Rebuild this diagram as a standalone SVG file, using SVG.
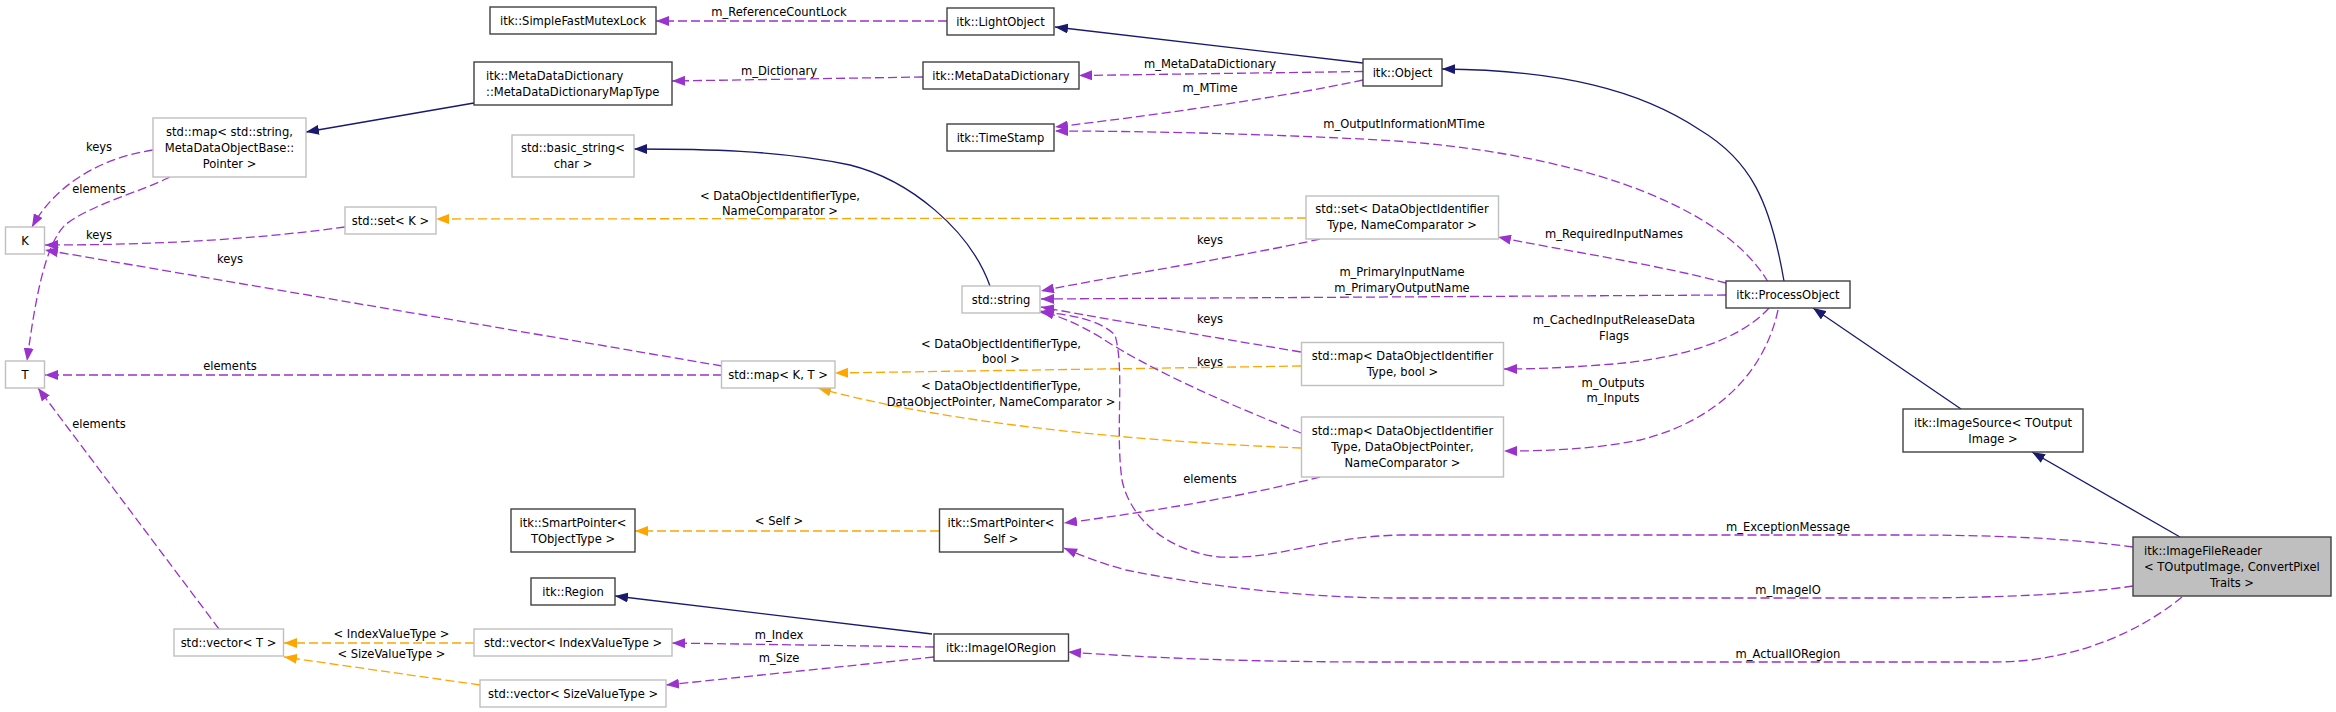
<svg xmlns="http://www.w3.org/2000/svg" width="2336" height="712" viewBox="0 0 2336 712">
<style>
text{font-family:"DejaVu Sans Condensed","DejaVu Sans",sans-serif;font-size:12.8px;fill:#000}
.c{text-anchor:middle}
.nd rect{fill:#fff;stroke:#404040;stroke-width:1.4}
.ng rect{fill:#fff;stroke:#bfbfbf;stroke-width:1.4}
.nh rect{fill:#bfbfbf;stroke:#404040;stroke-width:1.4}
.e path{fill:none;stroke-width:1.3}
.p{stroke:#9a32cd;stroke-dasharray:9,4}
.o{stroke:#ffa500;stroke-dasharray:9,4}
.b{stroke:#191970}
.e path.p{marker-end:url(#ap)}
.e path.o{marker-end:url(#ao)}
.e path.b{marker-end:url(#ab)}
</style>
<defs>
<marker id="ap" markerUnits="userSpaceOnUse" markerWidth="14" markerHeight="10" refX="13" refY="5" orient="auto"><path d="M0,0 L13,5 L0,10 z" fill="#9a32cd"/></marker>
<marker id="ao" markerUnits="userSpaceOnUse" markerWidth="14" markerHeight="10" refX="13" refY="5" orient="auto"><path d="M0,0 L13,5 L0,10 z" fill="#ffa500"/></marker>
<marker id="ab" markerUnits="userSpaceOnUse" markerWidth="14" markerHeight="10" refX="13" refY="5" orient="auto"><path d="M0,0 L13,5 L0,10 z" fill="#191970"/></marker>
</defs>
<rect width="2336" height="712" fill="#fff"/>
<g id="edges" class="e">
<path class="p" d="M947,21 L656,21"/>
<text class="c" x="779" y="16">m_ReferenceCountLock</text>
<path class="b" d="M1363,63 L1055,27"/>
<path class="p" d="M923,77 L672,81"/>
<text class="c" x="779" y="75">m_Dictionary</text>
<path class="p" d="M1363,71.5 L1079,75.5"/>
<text class="c" x="1210" y="68">m_MetaDataDictionary</text>
<path class="p" d="M1363,80 C1280,98 1140,117 1055,127"/>
<text class="c" x="1210" y="92">m_MTime</text>
<path class="p" d="M1768,282 C1720,200 1560,150 1380,140 C1250,133 1120,131 1055,131"/>
<text class="c" x="1404" y="128">m_OutputInformationMTime</text>
<path class="b" d="M1784,281 C1770,200 1750,160 1700,130 C1640,90 1560,70 1442,69"/>
<path class="b" d="M990,286 C970,230 910,180 850,165 C780,150 700,149 634,149"/>
<path class="b" d="M474,103 L306,132"/>
<path class="p" d="M153,150 C100,158 55,185 32,227"/>
<text class="c" x="99" y="151">keys</text>
<path class="p" d="M170,177 C140,192 90,205 65,225 C45,245 35,300 27,361"/>
<text class="c" x="99" y="193">elements</text>
<path class="p" d="M345,227 C250,240 150,245 45,245"/>
<text class="c" x="99" y="239">keys</text>
<path class="p" d="M722,366 L45,250"/>
<text class="c" x="230" y="263">keys</text>
<path class="p" d="M722,375 L45,375"/>
<text class="c" x="230" y="370">elements</text>
<path class="p" d="M219,629 L38,388"/>
<text class="c" x="99" y="428">elements</text>
<path class="o" d="M1306,218 L436,219"/>
<text class="c" x="780" y="200">&lt; DataObjectIdentifierType,</text>
<text class="c" x="780" y="215">NameComparator &gt;</text>
<path class="p" d="M1320,239 C1250,255 1120,275 1041,291"/>
<text class="c" x="1210" y="244">keys</text>
<path class="p" d="M1726,295 L1041,299"/>
<text class="c" x="1402" y="276">m_PrimaryInputName</text>
<text class="c" x="1402" y="292">m_PrimaryOutputName</text>
<path class="p" d="M1726,283 C1660,265 1560,250 1498,237"/>
<text class="c" x="1614" y="238">m_RequiredInputNames</text>
<path class="p" d="M1301,352 C1200,335 1100,318 1041,307"/>
<text class="c" x="1210" y="323">keys</text>
<path class="o" d="M1301,366 L835,373"/>
<text class="c" x="1001" y="348">&lt; DataObjectIdentifierType,</text>
<text class="c" x="1001" y="363">bool &gt;</text>
<path class="p" d="M1301,433 C1230,405 1150,370 1100,337 C1075,322 1055,315 1041,311"/>
<text class="c" x="1210" y="366">keys</text>
<path class="o" d="M1301,448 C1150,442 950,425 818,388"/>
<text class="c" x="1001" y="390">&lt; DataObjectIdentifierType,</text>
<text class="c" x="1001" y="406">DataObjectPointer, NameComparator &gt;</text>
<path class="p" d="M1769,308 C1740,340 1680,360 1600,365 C1560,368 1530,369 1504,369"/>
<text class="c" x="1614" y="324">m_CachedInputReleaseData</text>
<text class="c" x="1614" y="340">Flags</text>
<path class="p" d="M1778,310 C1765,370 1720,420 1640,440 C1590,450 1540,451 1504,451"/>
<text class="c" x="1613" y="387">m_Outputs</text>
<text class="c" x="1613" y="402">m_Inputs</text>
<path class="p" d="M2133,547 C2060,537 1980,535 1900,535 L1400,535 C1320,537 1280,560 1220,557 C1170,552 1130,520 1122,480 C1115,430 1125,370 1115,335 C1100,320 1070,314 1039,312"/>
<text class="c" x="1788" y="531">m_ExceptionMessage</text>
<path class="p" d="M2133,586 C2080,594 2000,598 1900,598 L1400,598 C1300,598 1200,585 1126,570 C1100,563 1080,555 1064,548"/>
<text class="c" x="1788" y="594">m_ImageIO</text>
<path class="p" d="M2182,597 C2160,615 2110,650 2030,660 C2010,662 2000,662 1990,662 L1380,662 C1250,662 1150,658 1068,652"/>
<text class="c" x="1788" y="658">m_ActualIORegion</text>
<path class="b" d="M2180,537 L2032,452"/>
<path class="b" d="M1961,409 L1813,308"/>
<path class="o" d="M939,531 L635,531"/>
<text class="c" x="779" y="525">&lt; Self &gt;</text>
<path class="p" d="M1320,477 C1250,495 1150,512 1064,523"/>
<text class="c" x="1210" y="483">elements</text>
<path class="b" d="M932,634 L615,596"/>
<path class="p" d="M934,647 L672,643"/>
<text class="c" x="779" y="639">m_Index</text>
<path class="p" d="M934,657 L666,685"/>
<text class="c" x="779" y="662">m_Size</text>
<path class="o" d="M474,643 L284,643"/>
<text class="c" x="391.5" y="638">&lt; IndexValueType &gt;</text>
<path class="o" d="M480,685 L284,657"/>
<text class="c" x="391.5" y="658">&lt; SizeValueType &gt;</text>
</g>
<g id="n_mutex" class="nd"><rect x="490" y="7" width="166" height="27"/><text class="c" x="573" y="25">itk::SimpleFastMutexLock</text></g>
<g id="n_light" class="nd"><rect x="947" y="8" width="107" height="27"/><text class="c" x="1000.5" y="26">itk::LightObject</text></g>
<g id="n_maptype" class="nd"><rect x="474" y="62" width="198" height="43"/><text x="486" y="80">itk::MetaDataDictionary</text><text x="486" y="96">::MetaDataDictionaryMapType</text></g>
<g id="n_mdd" class="nd"><rect x="923" y="62" width="156" height="27"/><text class="c" x="1001" y="80">itk::MetaDataDictionary</text></g>
<g id="n_object" class="nd"><rect x="1363" y="59" width="79" height="27"/><text class="c" x="1402.5" y="77">itk::Object</text></g>
<g id="n_stdmap_str" class="ng"><rect x="153" y="118" width="153" height="59"/><text class="c" x="229.5" y="136">std::map&lt; std::string,</text><text class="c" x="229.5" y="152">MetaDataObjectBase::</text><text class="c" x="229.5" y="168">Pointer &gt;</text></g>
<g id="n_basic" class="ng"><rect x="512" y="135" width="122" height="42"/><text class="c" x="573" y="152">std::basic_string&lt;</text><text class="c" x="573" y="168">char &gt;</text></g>
<g id="n_timestamp" class="nd"><rect x="947" y="124" width="107" height="27"/><text class="c" x="1000.5" y="142">itk::TimeStamp</text></g>
<g id="n_setK" class="ng"><rect x="345" y="207" width="91" height="27"/><text class="c" x="390.5" y="225">std::set&lt; K &gt;</text></g>
<g id="n_K" class="ng"><rect x="5.5" y="227" width="39" height="27"/><text class="c" x="25" y="245">K</text></g>
<g id="n_setDOI" class="ng"><rect x="1306" y="196" width="192.5" height="43"/><text class="c" x="1402" y="213">std::set&lt; DataObjectIdentifier</text><text class="c" x="1402" y="229">Type, NameComparator &gt;</text></g>
<g id="n_string" class="ng"><rect x="962" y="286" width="78" height="27"/><text class="c" x="1001" y="304">std::string</text></g>
<g id="n_process" class="nd"><rect x="1726" y="281" width="124" height="27"/><text class="c" x="1788" y="299">itk::ProcessObject</text></g>
<g id="n_T" class="ng"><rect x="5.5" y="361" width="39" height="27"/><text class="c" x="25" y="379">T</text></g>
<g id="n_mapKT" class="ng"><rect x="721.5" y="361" width="113.5" height="27"/><text class="c" x="778" y="379">std::map&lt; K, T &gt;</text></g>
<g id="n_mapbool" class="ng"><rect x="1301.5" y="342.5" width="202" height="43"/><text class="c" x="1402.5" y="360">std::map&lt; DataObjectIdentifier</text><text class="c" x="1402.5" y="376">Type, bool &gt;</text></g>
<g id="n_imgsrc" class="nd"><rect x="1903" y="409" width="180" height="43"/><text class="c" x="1993" y="427">itk::ImageSource&lt; TOutput</text><text class="c" x="1993" y="443">Image &gt;</text></g>
<g id="n_mapDOP" class="ng"><rect x="1301.5" y="417" width="202" height="60"/><text class="c" x="1402.5" y="435">std::map&lt; DataObjectIdentifier</text><text class="c" x="1402.5" y="451">Type, DataObjectPointer,</text><text class="c" x="1402.5" y="467">NameComparator &gt;</text></g>
<g id="n_spTObj" class="nd"><rect x="511" y="509" width="124" height="43"/><text class="c" x="573" y="527">itk::SmartPointer&lt;</text><text class="c" x="573" y="543">TObjectType &gt;</text></g>
<g id="n_spSelf" class="nd"><rect x="939.5" y="509" width="123.5" height="43"/><text class="c" x="1001" y="527">itk::SmartPointer&lt;</text><text class="c" x="1001" y="543">Self &gt;</text></g>
<g id="n_reader" class="nh"><rect x="2133" y="537" width="198" height="59"/><text x="2144" y="555">itk::ImageFileReader</text><text x="2144" y="571">&lt; TOutputImage, ConvertPixel</text><text class="c" x="2232" y="587">Traits &gt;</text></g>
<g id="n_region" class="nd"><rect x="531" y="578" width="84" height="27"/><text class="c" x="573" y="596">itk::Region</text></g>
<g id="n_vecT" class="ng"><rect x="174" y="629" width="109.5" height="27"/><text class="c" x="228.5" y="647">std::vector&lt; T &gt;</text></g>
<g id="n_vecIdx" class="ng"><rect x="474" y="629" width="198" height="27"/><text class="c" x="573" y="647">std::vector&lt; IndexValueType &gt;</text></g>
<g id="n_ioregion" class="nd"><rect x="934" y="634" width="134.5" height="27"/><text class="c" x="1001" y="652">itk::ImageIORegion</text></g>
<g id="n_vecSize" class="ng"><rect x="480" y="680" width="186" height="27"/><text class="c" x="573" y="698">std::vector&lt; SizeValueType &gt;</text></g>
</svg>
